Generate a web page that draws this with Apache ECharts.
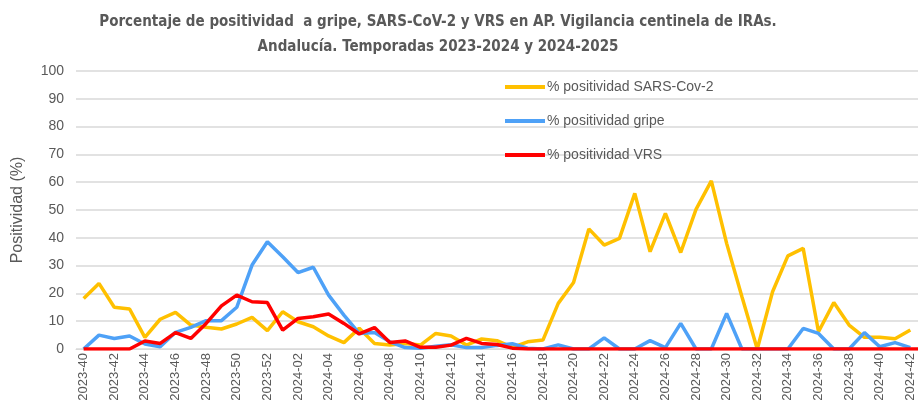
<!DOCTYPE html>
<html>
<head>
<meta charset="utf-8">
<script src="https://cdn.jsdelivr.net/npm/echarts@6/dist/echarts.min.js"></script>
<style>
    html, body { margin: 0; padding: 0; background: #fff; }
    #chart { width: 918px; height: 415px; }
</style>
</head>
<body>
<div id="chart"></div>
<script>
// semanas epidemiologicas 2023-40 .. 2024-42
const weeks = [];
for (let w = 40; w <= 52; w++) weeks.push('2023-' + w);
for (let w = 1; w <= 42; w++) weeks.push('2024-' + (w < 10 ? '0' + w : w));

const sarsCov2 = [
    18.2, 23.6, 15, 14.4, 4.2, 10.7, 13.2, 8.6, 7.8, 7.2, 9, 11.4, 6.6, 13.4, 9.8,
    8, 4.7, 2.3, 7.5, 2, 1.4, 2, 1.4, 5.6, 4.7, 1.4, 3.6, 3, 0.6, 2.6, 3.2,
    16.4, 23.9, 43.2, 37.4, 39.8, 56, 35, 48.8, 34.7, 50.2, 60.5, 38, 18.8, 0,
    20.6, 33.5, 36.2, 6.2, 16.7, 8.6, 4.2, 4.2, 3.7, 6.8
];
const gripe = [
    0, 5, 3.8, 4.7, 1.8, 0.8, 6, 7.8, 10.2, 10.2, 15, 30.2, 38.6, 33.2, 27.5, 29.4,
    19.4, 12.2, 5.6, 5.9, 2.6, 0.5, 0.3, 1, 1.5, 0.5, 0.5, 1.3, 1.9, 0.3, 0,
    1.5, 0, 0, 4, 0, 0, 3, 0.5, 9.2, 0, 0, 12.8, 0, 0, 0, 0, 7.4, 5.6, 0, 0, 5.9, 0.8, 2.3, 0.5
];
const vrs = [
    0, 0, 0, 0, 2.9, 2, 5.9, 3.8, 9.2, 15.5, 19.4, 17, 16.7, 6.8, 11, 11.6, 12.6, 9.2, 5.4, 7.7,
    2.3, 2.9, 0.6, 0.6, 1.4, 3.8, 2, 1.6, 0.3,
    0, 0, 0, 0, 0, 0, 0, 0, 0, 0, 0, 0, 0, 0, 0, 0, 0, 0, 0, 0, 0, 0, 0, 0, 0, 0, 0
];
const seriesNames = ['% positividad SARS-Cov-2', '% positividad gripe', '% positividad VRS'];
const colors = ['#ffc000', '#4ea1f7', '#ff0000'];

const txt = '#595959';
const chart = echarts.init(document.getElementById('chart'));

let option = {
    animation: false,
    title: {
        text: 'Porcentaje de positividad  a gripe, SARS-CoV-2 y VRS en AP. Vigilancia centinela de IRAs.\nAndalucía. Temporadas 2023-2024 y 2024-2025',
        left: 433,
        top: 5,
        textAlign: 'center',
        textStyle: {
            fontFamily: 'DejaVu Sans Condensed, sans-serif',
            fontSize: 15,
            fontWeight: 'bold',
            color: txt,
            lineHeight: 25,
            align: 'center'
        }
    },
    legend: {
        orient: 'vertical',
        left: 505,
        top: 80,
        padding: 0,
        itemWidth: 40,
        itemHeight: 4,
        itemGap: 20,
        icon: 'rect',
        textStyle: {
            fontFamily: 'Liberation Sans, Arial, sans-serif',
            fontSize: 14,
            color: txt,
            padding: [0, 0, 0, -3]
        },
        data: seriesNames
    },
    grid: {
        left: 76,
        right: 0,
        top: 71,
        bottom: 66,
        containLabel: false
    },
    xAxis: {
        type: 'category',
        data: weeks,
        boundaryGap: true,
        axisLine: { show: true, lineStyle: { color: '#d9d9d9' } },
        axisTick: { show: false },
        axisLabel: {
            interval: 1,
            rotate: 90,
            margin: 4,
            fontFamily: 'Liberation Sans, Arial, sans-serif',
            fontSize: 13,
            color: txt
        }
    },
    yAxis: {
        type: 'value',
        min: 0,
        max: 100,
        interval: 10,
        name: 'Positividad (%)',
        nameLocation: 'middle',
        nameGap: 50,
        nameTextStyle: {
            fontFamily: 'Liberation Sans, Arial, sans-serif',
            fontSize: 16,
            color: txt
        },
        axisLabel: {
            margin: 12,
            fontFamily: 'Liberation Sans, Arial, sans-serif',
            fontSize: 14,
            color: txt
        },
        splitLine: { lineStyle: { color: '#d9d9d9', width: 1.5 } }
    },
    series: [sarsCov2, gripe, vrs].map(function (d, i) {
        return {
            name: seriesNames[i],
            type: 'line',
            data: d,
            showSymbol: false,
            symbol: 'none',
            color: colors[i],
            lineStyle: { width: 3.5, color: colors[i] }
        };
    })
};
chart.setOption(option);
</script>
</body>
</html>
